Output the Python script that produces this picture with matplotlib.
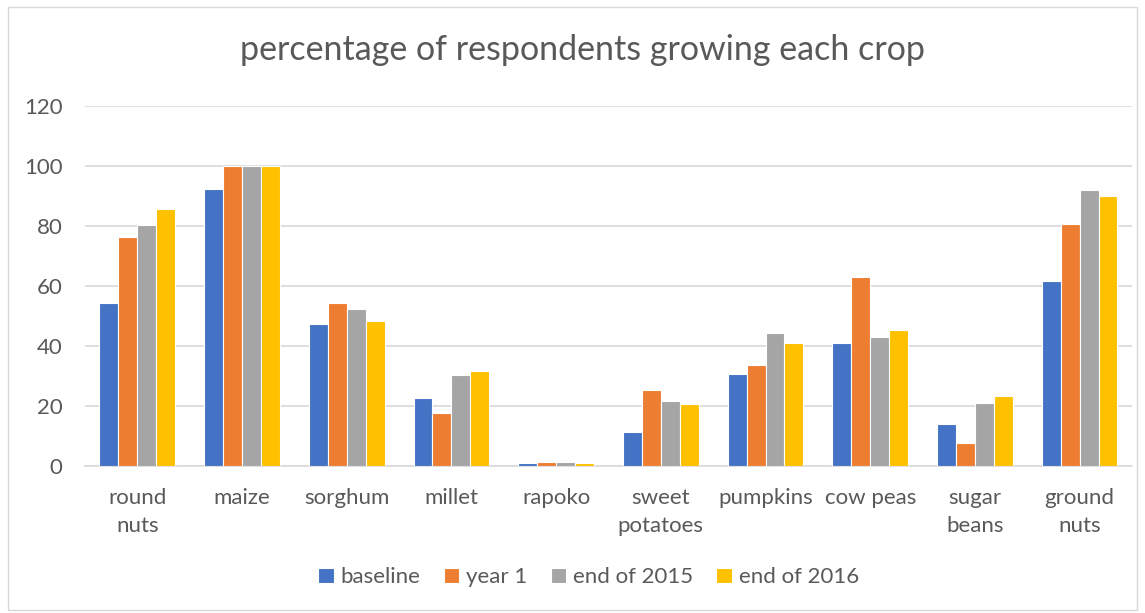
import matplotlib.pyplot as plt
import numpy as np
from matplotlib.patches import Rectangle

crops = ['round\nnuts', 'maize', 'sorghum', 'millet', 'rapoko', 'sweet\npotatoes',
         'pumpkins', 'cow peas', 'sugar\nbeans', 'ground\nnuts']
series = ['baseline', 'year 1', 'end of 2015', 'end of 2016']
baseline = [54.1, 92.2, 47.2, 22.7, 0.8, 11.1, 30.7, 40.8, 13.8, 61.6]
year1 = [76.1, 100, 54.2, 17.5, 1.2, 25.1, 33.7, 62.9, 7.7, 80.5]
end2015 = [80.1, 100, 52.2, 30.1, 1.2, 21.6, 44.2, 42.9, 20.9, 91.9]
end2016 = [85.6, 100, 48.2, 31.6, 1.0, 20.6, 40.9, 45.2, 23.2, 89.9]
yticks = [0, 20, 40, 60, 80, 100, 120]

colors = ['#4472c4', '#ed7d31', '#a5a5a5', '#ffc000']
plt.rcParams['font.family'] = ['Lato', 'DejaVu Sans']

fig = plt.figure(figsize=(11.45, 6.13), dpi=100)
ax = fig.add_axes([0.0742, 0.2403, 0.9144, 0.5873])

x = np.arange(len(crops))
w = 0.181
for i, vals in enumerate([baseline, year1, end2015, end2016]):
    ax.bar(x + (i - 1.5) * w, vals, width=w, color=colors[i], edgecolor='white',
           linewidth=0.8, label=series[i], zorder=3)

ax.set_xlim(-0.5, len(crops) - 0.5)
ax.set_ylim(0, 120)
ax.set_yticks(yticks)
ax.grid(axis='y', color='#d9d9d9', linewidth=1.2, zorder=0)
for s in ['top', 'right', 'left']:
    ax.spines[s].set_visible(False)
ax.spines['bottom'].set_color('#d9d9d9')
ax.spines['bottom'].set_linewidth(1.2)
ax.tick_params(axis='both', length=0, labelsize=16, colors='#595959')
ax.tick_params(axis='y', pad=16)
ax.tick_params(axis='x', pad=16)
ax.set_xticks(x)
ax.set_xticklabels(crops, linespacing=1.5)

fig.suptitle('percentage of respondents growing each crop', x=0.509, y=0.945,
             fontsize=24.5, color='#595959')

ax.legend(loc='center', bbox_to_anchor=(0.481, -0.31), ncol=4, frameon=False,
          fontsize=16, labelcolor='#595959', handlelength=0.7, handleheight=0.7,
          handletextpad=0.3, columnspacing=1.05)

fig.patches.append(Rectangle((8 / 1145, 3 / 613), 1129 / 1145, 603 / 613,
                             transform=fig.transFigure, fill=False,
                             edgecolor='#d9d9d9', linewidth=1))

fig.savefig('out.png', dpi=100)
